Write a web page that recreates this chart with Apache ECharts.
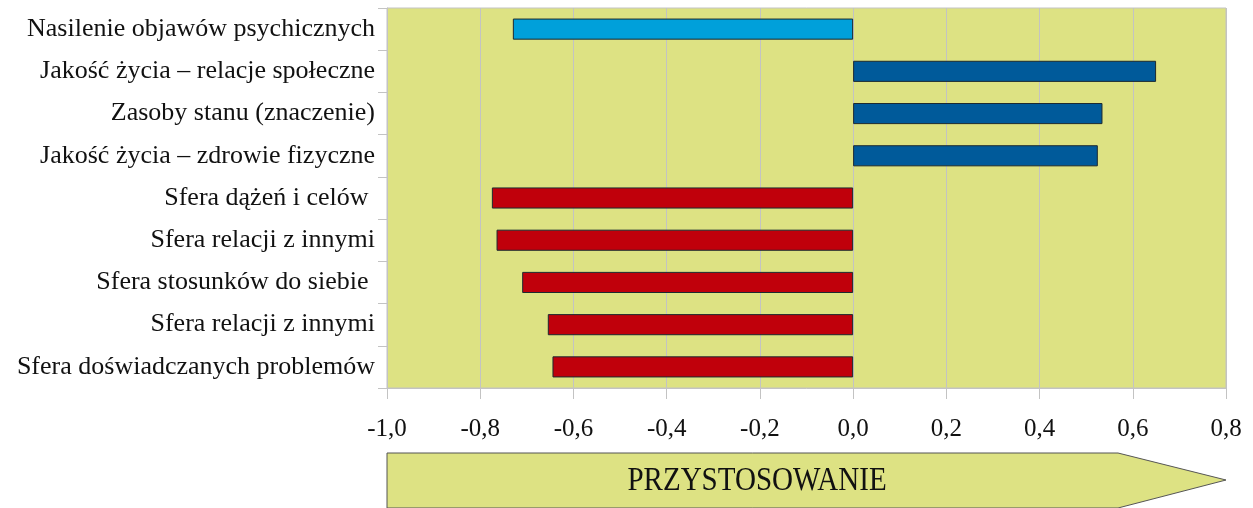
<!DOCTYPE html>
<html>
<head>
<meta charset="utf-8">
<script src="https://cdn.jsdelivr.net/npm/echarts@6/dist/echarts.min.js"></script>
<style>
  html, body { margin: 0; padding: 0; background: #fff; }
  #main { width: 1253px; height: 508px; }
</style>
</head>
<body>
<div id="main"></div>
<script>
// categories listed top to bottom
var categories = [
  'Nasilenie objawów psychicznych',
  'Jakość życia – relacje społeczne',
  'Zasoby stanu (znaczenie)',
  'Jakość życia – zdrowie fizyczne',
  'Sfera dążeń i celów ',
  'Sfera relacji z innymi',
  'Sfera stosunków do siebie ',
  'Sfera relacji z innymi',
  'Sfera doświadczanych problemów'
];
var values = [-0.73, 0.65, 0.535, 0.525, -0.775, -0.765, -0.71, -0.655, -0.645];
var barColors = ['#00a0da', '#005a9a', '#005a9a', '#005a9a', '#c0000b', '#c0000b', '#c0000b', '#c0000b', '#c0000b'];
var xTicks = [-1.0, -0.8, -0.6, -0.4, -0.2, 0.0, 0.2, 0.4, 0.6, 0.8];
var arrowLabel = 'PRZYSTOSOWANIE';

var serif = '"Liberation Serif", "DejaVu Serif", serif';
var chart = echarts.init(document.getElementById('main'));

// reversed so the first category sits on top
var catsRev = categories.slice().reverse();
var dataRev = values.map(function (v, i) {
  return { value: v, itemStyle: { color: barColors[i] } };
}).reverse();

var option = {
  animation: false,
  grid: { left: 387, right: 27, top: 8, bottom: 120, show: true, backgroundColor: '#dde283', borderColor: '#c3c3c3', borderWidth: 1 },
  xAxis: {
    type: 'value',
    min: xTicks[0],
    max: xTicks[xTicks.length - 1],
    interval: 0.2,
    axisLine: { show: true, lineStyle: { color: '#c3c3c3' } },
    axisTick: { show: true, length: 11, lineStyle: { color: '#c3c3c3' } },
    splitLine: { show: true, lineStyle: { color: '#c3c3c3' } },
    axisLabel: {
      margin: 29,
      color: '#111',
      fontFamily: serif,
      fontSize: 25,
      formatter: function (v) { return v.toFixed(1).replace('.', ','); }
    }
  },
  yAxis: {
    type: 'category',
    data: catsRev,
    axisLine: { show: true, onZero: false, lineStyle: { color: '#c3c3c3' } },
    axisTick: { show: true, length: 9, lineStyle: { color: '#c3c3c3' } },
    axisLabel: { margin: 12, color: '#111', fontFamily: serif, fontSize: 26 }
  },
  series: [{
    type: 'bar',
    data: dataRev,
    barWidth: '50%',
    itemStyle: { borderColor: '#1c2a30', borderWidth: 1 }
  }],
  graphic: [
    {
      type: 'polygon',
      shape: { points: [[387, 453], [1118, 453], [1226, 480], [1118, 508], [387, 508]] },
      style: { fill: '#dde283', stroke: '#555', lineWidth: 1 }
    },
    {
      type: 'text',
      x: 757,
      y: 481,
      scaleX: 0.88,
      style: {
        text: arrowLabel,
        font: '33px ' + serif,
        fill: '#111',
        textAlign: 'center',
        textVerticalAlign: 'middle'
      }
    }
  ]
};
chart.setOption(option);
</script>
</body>
</html>
